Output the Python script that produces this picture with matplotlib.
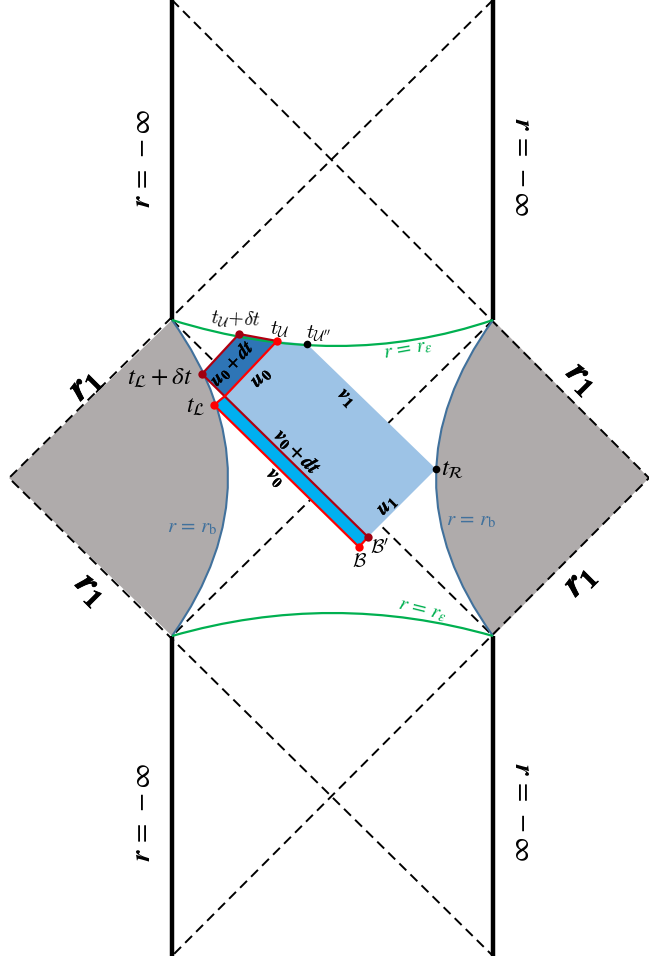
import matplotlib
matplotlib.use("Agg")
import matplotlib.pyplot as plt
import matplotlib.patheffects as pe
from matplotlib.path import Path
from matplotlib.patches import PathPatch

plt.rcParams['mathtext.fontset'] = 'stix'
plt.rcParams['font.family'] = 'STIXGeneral'

# everything is in picture pixels, y going down
corner_tl = (172, 320)
corner_tr = (493, 320)
corner_bl = (172, 636)
corner_br = (493, 636)
tip_left = (9, 478)
tip_right = (649, 478)

# control points of the curved boundaries
ctrl_left = (284, 478)
ctrl_right = (379, 478)
ctrl_top = (340, 372)
ctrl_bot = (332, 590)

t_u = (277, 341)
t_u_dt = (239, 334)
t_u2 = (307, 344)
t_l = (214, 405)
t_l_dt = (202, 374)
t_r = (436, 469)
joint = (225, 396)
b = (359, 547)
b_prime = (368, 537)

GREY = '#AFABAB'
LIGHT = '#9DC3E6'
DARK = '#2E75B6'
CYAN = '#00B0F0'
GREEN = '#00B050'
CURVE = '#41719C'
RED = '#FF0000'
DARKRED = '#B00010'

fig = plt.figure(figsize=(6.49, 9.56), dpi=100)
ax = fig.add_axes([0, 0, 1, 1])
ax.set_xlim(0, 649)
ax.set_ylim(956, 0)
ax.axis('off')


def line(p, q, **kw):
    ax.plot([p[0], q[0]], [p[1], q[1]], **kw)


def curve(p, c, q, color, lw, zorder):
    ax.add_patch(PathPatch(Path([p, c, q], [Path.MOVETO, Path.CURVE3, Path.CURVE3]),
                           fc='none', ec=color, lw=lw, zorder=zorder))


def wedge(p, c, q, tip):
    path = Path([p, c, q, tip, p], [Path.MOVETO, Path.CURVE3, Path.CURVE3, Path.LINETO, Path.CLOSEPOLY])
    ax.add_patch(PathPatch(path, fc=GREY, ec='none', lw=0, zorder=1))


# grey wedges
wedge(corner_tl, ctrl_left, corner_bl, tip_left)
wedge(corner_tr, ctrl_right, corner_br, tip_right)

# dashed horizons
dash = dict(color='black', lw=1.4, dashes=(5, 3), zorder=2)
for path in [[(172, 0), tip_right, (172, 956)], [(493, 0), tip_left, (493, 956)]]:
    ax.plot([p[0] for p in path], [p[1] for p in path], **dash)
line(corner_tl, corner_br, **dash)
line(corner_tr, corner_bl, **dash)

# singularities
for x, ys in [(172, (0, 320)), (172, (636, 956)), (493, (0, 320)), (493, (636, 956))]:
    ax.plot([x, x], ys, color='black', lw=3.2, solid_capstyle='butt', zorder=3)

curve(corner_tl, ctrl_left, corner_bl, CURVE, 1.5, 4)
curve(corner_tr, ctrl_right, corner_br, CURVE, 1.5, 4)

ax.fill(*zip(t_u, t_u2, t_r, b_prime, joint), color=LIGHT, lw=0, zorder=5)
ax.fill(*zip(t_u_dt, t_u, joint, t_l_dt), color=DARK, lw=0, zorder=5)
ax.fill(*zip(t_l, joint, b_prime, b), color=CYAN, lw=0, zorder=5)

curve(corner_tl, ctrl_top, corner_tr, GREEN, 1.6, 6)
curve(corner_bl, ctrl_bot, corner_br, GREEN, 1.6, 6)

red = dict(color=RED, lw=1.6, zorder=7)
dred = dict(color=DARKRED, lw=1.6, zorder=7)
line(t_l_dt, b_prime, **dred)
line(t_u_dt, t_l_dt, **dred)
line(t_u, t_u_dt, **dred)
line(t_u, joint, **red)
line(joint, t_l, **red)
line(t_l, b, **red)
line(b, b_prime, **red)

for p in [t_u, t_l, b]:
    ax.plot(*p, 'o', color=RED, ms=6, mew=0, zorder=8)
for p in [t_u_dt, t_l_dt, b_prime]:
    ax.plot(*p, 'o', color='#A00010', ms=6, mew=0, zorder=8)
for p in [t_u2, t_r]:
    ax.plot(*p, 'o', color='black', ms=5.5, mew=0, zorder=8)


def label(x, y, s, size=14, rot=0, color='black', heavy=0, font='stix'):
    t = ax.text(x, y, s, fontsize=size, rotation=rot, color=color, ha='center', va='center',
                rotation_mode='anchor', zorder=9, math_fontfamily=font)
    if heavy:
        t.set_path_effects([pe.withStroke(linewidth=heavy, foreground=color)])


inf_label = r'$\mathbfit{r}\,=\,-\infty$'
label(143, 158, inf_label, 20, 90)
label(143, 812, inf_label, 20, 90)
label(522, 167, inf_label, 20, -90)
label(522, 812, inf_label, 20, -90)

r1 = r'$\mathbfit{r}_{\mathbf{1}}$'
label(85, 384, r1, 27, 45, heavy=0.6)
label(92, 590, r1, 27, -45, heavy=0.6)
label(583, 379, r1, 27, -45, heavy=0.6)
label(580, 580, r1, 27, 45, heavy=0.6)

label(236, 320, r'$t_{\mathcal{U}}\!+\!\delta t$', 14, -3, font='cm')
label(280, 330, r'$t_{\mathcal{U}}$', 15, font='cm')
label(318, 334, r"$t_{\mathcal{U}''}$", 15, font='cm')
label(160, 379, r'$t_{\mathcal{L}}+\delta t$', 18)
label(196, 407, r'$t_{\mathcal{L}}$', 17)
label(453, 470, r'$t_{\mathcal{R}}$', 18)
label(359, 562, r'$\mathcal{B}$', 14, font='cm')
label(380, 548, r"$\mathcal{B}'$", 14, font='cm')

label(192, 527, r'$r\,=\,r_{\mathrm{b}}$', 15, color=CURVE)
label(471, 520, r'$r\,=\,r_{\mathrm{b}}$', 15, color=CURVE)
label(408, 349, r'$r\,=\,r_{\epsilon}$', 15, 10, GREEN)
label(422, 610, r'$r\,=\,r_{\epsilon}$', 15, -14, GREEN)

label(232, 363, r'$\mathbfit{u}_{\mathbf{0}}+\mathbfit{dt}$', 14, 46, heavy=0.2)
label(261, 377, r'$\mathbfit{u}_{\mathbf{0}}$', 15, 45, heavy=0.2)
label(298, 452, r'$\mathbfit{v}_{\mathbf{0}}+\mathbfit{dt}$', 15, -45, heavy=0.2)
label(276, 478, r'$\mathbfit{v}_{\mathbf{0}}$', 15, -45, heavy=0.2)
label(347, 398, r'$\mathbfit{v}_{\mathbf{1}}$', 15, -45, heavy=0.2)
label(387, 505, r'$\mathbfit{u}_{\mathbf{1}}$', 15, 45, heavy=0.2)

fig.savefig('out.png', dpi=100)
